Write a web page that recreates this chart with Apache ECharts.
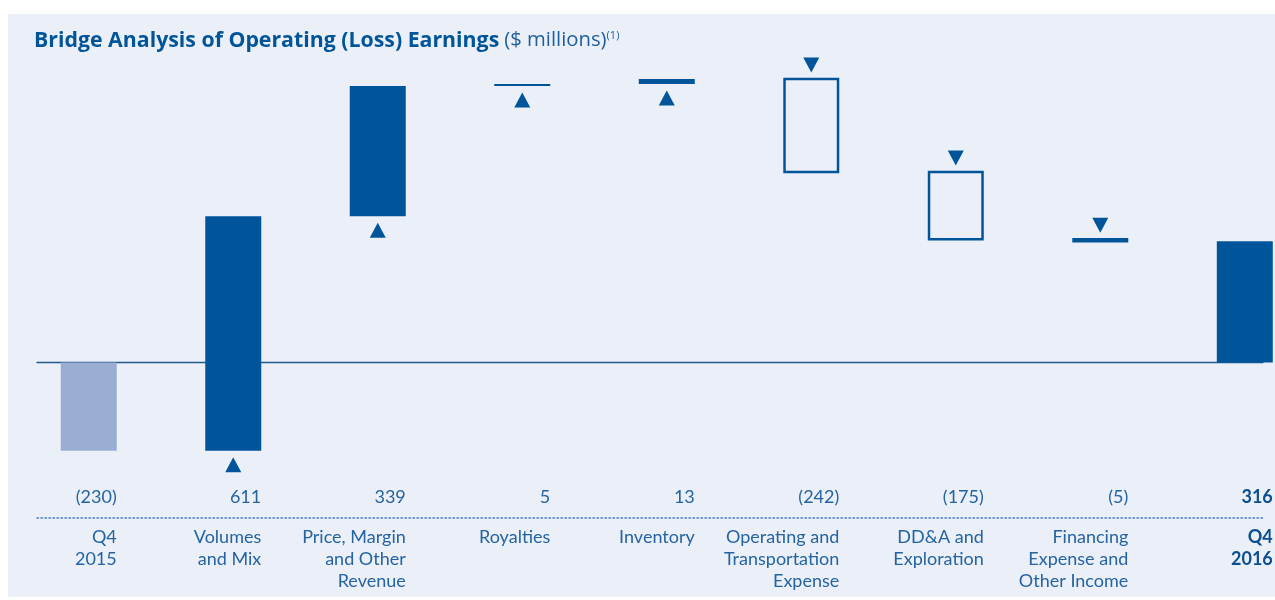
<!DOCTYPE html>
<html>
<head>
<meta charset="utf-8">
<script src="https://cdn.jsdelivr.net/npm/echarts@6/dist/echarts.min.js"></script>
<style>
html,body{margin:0;padding:0;background:#ffffff;}
#chart{width:1275px;height:600px;}
</style>
</head>
<body>
<div id="chart"></div>
<script>
// ---- data ----
const categories = ['Q4\n2015', 'Volumes\nand Mix', 'Price, Margin\nand Other\nRevenue', 'Royalties', 'Inventory',
  'Operating and\nTransportation\nExpense', 'DD&A and\nExploration', 'Financing\nExpense and\nOther Income', 'Q4\n2016'];
const changes = [-230, 611, 339, 5, 13, -242, -175, -5, 316];
const valueLabels = ['(230)', '611', '339', '5', '13', '(242)', '(175)', '(5)', '316'];
const kinds = ['start', 'delta', 'delta', 'delta', 'delta', 'delta', 'delta', 'delta', 'end'];

// ---- build waterfall ranges ----
const rows = [];
let running = 0;
changes.forEach(function (v, i) {
  let lo, hi;
  if (kinds[i] === 'start' || kinds[i] === 'end') {
    lo = Math.min(0, v); hi = Math.max(0, v); running = v;
  } else {
    const next = running + v;
    lo = Math.min(running, next); hi = Math.max(running, next); running = next;
  }
  rows.push([i, lo, hi, v]);
});

const DARK = '#00559A';
const LIGHT = '#9AAED3';
const TEXT = '#2563A2';
const BOLD_TEXT = '#0C4F8F';
const FONT = 'Lato, "Noto Sans", sans-serif';
const TITLE_FONT = '"Open Sans", "Noto Sans", sans-serif';
const BAR_W = 56;

const chart = echarts.init(document.getElementById('chart'), null, {renderer: 'canvas'});

function renderItem(params, api) {
  const i = api.value(0), lo = api.value(1), hi = api.value(2), v = api.value(3);
  const top = api.coord([i, hi]);
  const bot = api.coord([i, lo]);
  const cx = top[0];
  const x = cx - BAR_W / 2;
  const h = bot[1] - top[1];
  const kind = kinds[i];
  const children = [];
  if (kind === 'start') {
    children.push({type: 'rect', shape: {x: x, y: top[1], width: BAR_W, height: h}, style: {fill: LIGHT}});
  } else if (kind === 'end' || v > 0) {
    children.push({type: 'rect', shape: {x: x, y: top[1], width: BAR_W, height: Math.max(h, 2)}, style: {fill: DARK}});
  } else {
    children.push({type: 'rect', shape: {x: x + 1.25, y: top[1], width: BAR_W - 2.5, height: h}, style: {fill: 'none', stroke: DARK, lineWidth: 2.5}});
  }
  const tw = 16, th = 15, gap = 14;
  if (kind === 'delta' && v > 0) {
    const cy = bot[1] + gap;
    children.push({type: 'polygon', shape: {points: [[cx, cy - th / 2], [cx + tw / 2, cy + th / 2], [cx - tw / 2, cy + th / 2]]}, style: {fill: DARK}});
  } else if (kind === 'delta' && v < 0) {
    const cy = top[1] - gap;
    children.push({type: 'polygon', shape: {points: [[cx - tw / 2, cy - th / 2], [cx + tw / 2, cy - th / 2], [cx, cy + th / 2]]}, style: {fill: DARK}});
  }
  const cs = params.coordSys;
  const base = cs.y + cs.height;
  const bold = kind === 'end';
  children.push({type: 'text', x: x + BAR_W, y: base + 19.5, style: {
    text: valueLabels[i], fill: bold ? BOLD_TEXT : TEXT, font: (bold ? 'bold ' : '') + '18px ' + FONT,
    align: 'right', verticalAlign: 'middle'}});
  children.push({type: 'text', x: x + BAR_W, y: base + 48, style: {
    text: categories[i], fill: bold ? BOLD_TEXT : TEXT, font: (bold ? 'bold ' : '') + '18px ' + FONT,
    align: 'right', verticalAlign: 'top', lineHeight: 22}});
  return {type: 'group', children: children};
}

const X_MIN = -0.3581, X_MAX = 8.126;

chart.setOption({
  animation: false,
  backgroundColor: '#ffffff',
  graphic: [{type: 'rect', z: -10, silent: true, shape: {x: 8, y: 14, width: 1267, height: 583}, style: {fill: '#EBF0F8'}}],
  title: {
    left: 29, top: 25,
    text: '{b|Bridge Analysis of Operating (Loss) Earnings} {n|($ millions)}{s|(1)}',
    textStyle: {
      rich: {
        b: {fontFamily: TITLE_FONT, fontWeight: 'bold', fontSize: 21.3, color: '#00559A'},
        n: {fontFamily: TITLE_FONT, fontWeight: 'normal', fontSize: 20.3, color: '#1E5E9E'},
        s: {fontFamily: TITLE_FONT, fontWeight: 'normal', fontSize: 11, color: '#1E5E9E', verticalAlign: 'top', padding: [0, 0, 10, 0]}
      }
    }
  },
  grid: {left: 37, right: 12, top: 55.3, bottom: 122.3, containLabel: false},
  xAxis: [
    {type: 'value', min: X_MIN, max: X_MAX, axisLine: {onZero: true, lineStyle: {color: '#1F5A8C', width: 1.3}},
      axisTick: {show: false}, axisLabel: {show: false}, splitLine: {show: false}},
    {type: 'value', min: X_MIN, max: X_MAX, position: 'bottom', offset: 40.3,
      axisLine: {show: true, onZero: false, lineStyle: {color: '#4A7DB3', width: 1.5, type: [1.5, 2.5]}},
      axisTick: {show: false}, axisLabel: {show: false}, splitLine: {show: false}}
  ],
  yAxis: {type: 'value', min: -300, max: 800, show: false, splitLine: {show: false}},
  series: [{
    type: 'custom',
    renderItem: renderItem,
    xAxisIndex: 0,
    encode: {x: 0, y: [1, 2]},
    data: rows,
    clip: false
  }]
});
</script>
</body>
</html>
